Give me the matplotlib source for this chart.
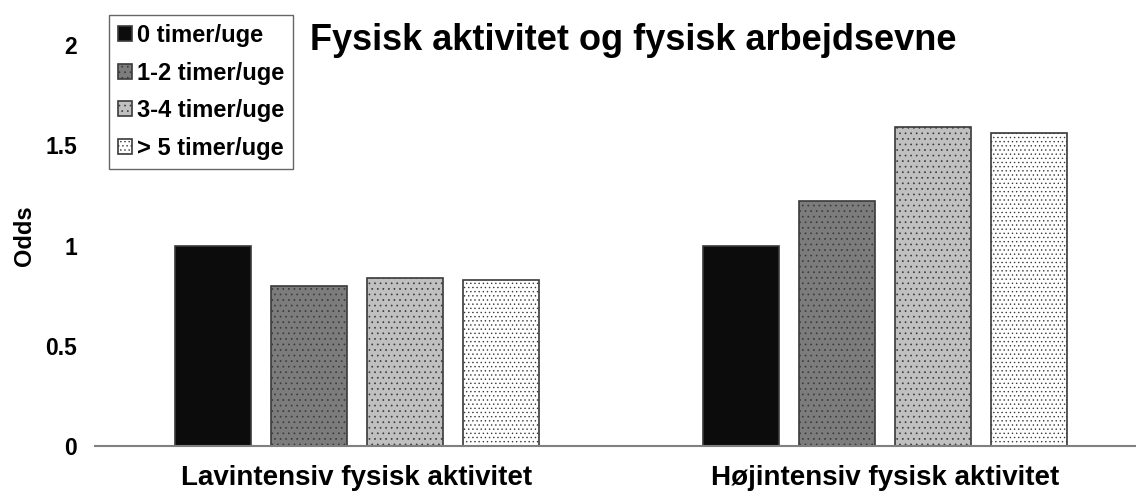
#!/usr/bin/env python3

import matplotlib
matplotlib.use('Agg')
import matplotlib.pyplot as plt
import numpy as np

# data
categories = ['Lavintensiv fysisk aktivitet', 'Højintensiv fysisk aktivitet']
series_names = ['0 timer/uge', '1-2 timer/uge', '3-4 timer/uge', '> 5 timer/uge']
odds_0 = [1.0, 1.0]
odds_1_2 = [0.80, 1.22]
odds_3_4 = [0.84, 1.59]
odds_5 = [0.83, 1.56]
y_ticks = [0, 0.5, 1, 1.5, 2]

plt.rcParams['font.family'] = ['Liberation Sans', 'DejaVu Sans']
plt.rcParams['font.weight'] = 'bold'
plt.rcParams['hatch.linewidth'] = 0.5

fig = plt.figure(figsize=(11.36, 4.93), dpi=100)
ax = fig.add_axes([0.0836, 0.0953, 0.9164, 0.8134])

colors = ['#0c0c0c', '#7c7c7c', '#c0c0c0', '#ffffff']
hatches = ['', '...', '...', '....']
x = np.arange(len(categories))
width = 0.144
step = 0.182
all_series = [odds_0, odds_1_2, odds_3_4, odds_5]
for i, vals in enumerate(all_series):
    offs = (i - 1.5) * step
    ax.bar(x + offs, vals, width, color=colors[i], edgecolor='#3a3a3a',
           hatch=hatches[i], linewidth=1.2, label=series_names[i])

ax.set_xlim(-0.496, 1.475)
ax.set_ylim(0, 2)
ax.set_yticks(y_ticks)
ax.set_yticklabels(['0', '0.5', '1', '1.5', '2'], fontsize=16.5, fontweight='bold')
ax.set_xticks(x)
ax.set_xticklabels(categories, fontsize=20, fontweight='bold')
ax.tick_params(axis='y', length=0, pad=13)
ax.tick_params(axis='x', length=0, pad=14)
for side in ['top', 'right', 'left']:
    ax.spines[side].set_visible(False)
ax.spines['bottom'].set_color('#808080')
ax.spines['bottom'].set_linewidth(1.5)

fig.text(0.022, 0.521, 'Odds', fontsize=17, fontweight='bold', rotation=90,
         ha='center', va='center')

fig.text(0.273, 0.918, 'Fysisk aktivitet og fysisk arbejdsevne', fontsize=26,
         fontweight='bold', ha='left', va='center')

leg = ax.legend(loc='upper left', bbox_to_anchor=(0.0134, 1.075), borderaxespad=0,
                prop={'weight': 'bold', 'size': 17}, frameon=True, fancybox=False,
                handlelength=0.6, handleheight=0.6, handletextpad=0.2,
                labelspacing=0.62, borderpad=0.38)
leg.get_frame().set_edgecolor('#404040')
leg.get_frame().set_linewidth(1.0)

fig.savefig('out.png', dpi=100)
